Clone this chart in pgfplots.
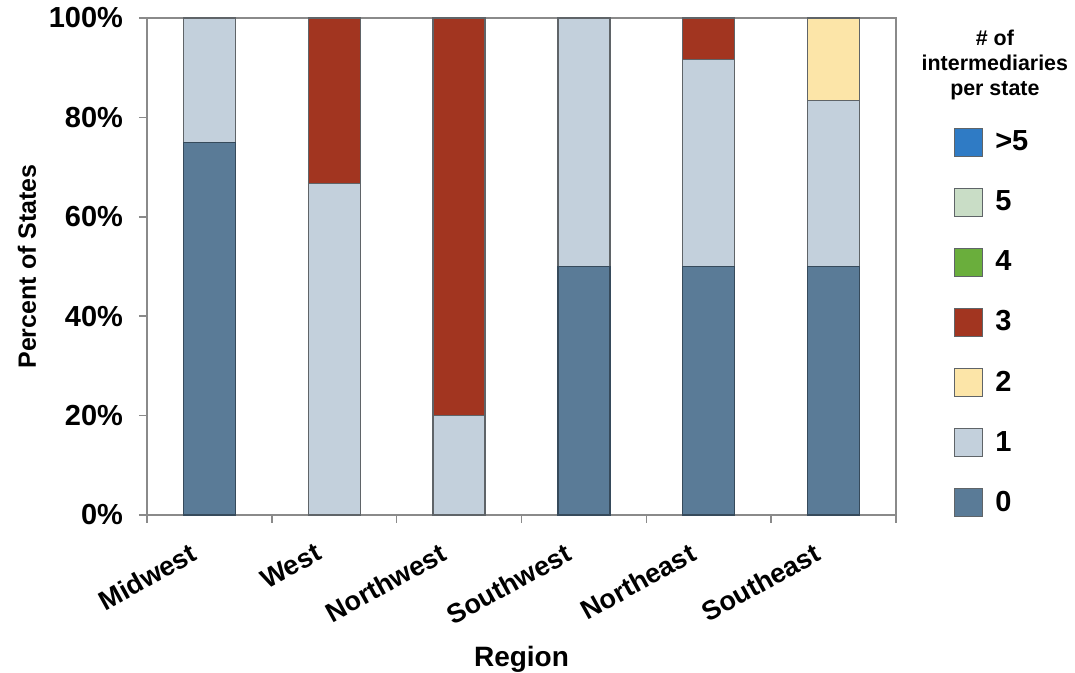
\documentclass[border=0pt]{standalone}
\usepackage{fontspec}
\setmainfont{Liberation Sans}
\usepackage{pgfplots}
\pgfplotsset{compat=1.18}
\definecolor{c0}{HTML}{5A7B97}
\definecolor{c1}{HTML}{C3D0DC}
\definecolor{c2}{HTML}{FCE5A8}
\definecolor{c3}{HTML}{A23520}
\definecolor{c4}{HTML}{6AAE3C}
\definecolor{c5}{HTML}{C9DDC6}
\definecolor{c6}{HTML}{2F7BC5}
\definecolor{edge}{HTML}{5F6468}
\definecolor{axgray}{HTML}{8A8A8A}
\begin{document}
\begin{tikzpicture}
\begin{axis}[
  scale only axis,
  width=374.5pt, height=248.5pt,
  ybar stacked,
  bar width=26pt,
  xmin=-0.5, xmax=5.5,
  ymin=0, ymax=100,
  axis line style={axgray, line width=0.8pt},
  xtick={0,1,2,3,4,5},
  xticklabels={Midwest,West,Northwest,Southwest,Northeast,Southeast},
  major x tick style={draw=none},
  minor xtick={-0.5,0.5,1.5,2.5,3.5,4.5,5.5},
  minor tick length=4pt,
  minor x tick style={axgray, line width=0.8pt},
  ytick={0,20,40,60,80,100},
  yticklabel={\pgfmathprintnumber{\tick}\%},
  major y tick style={axgray, line width=0.8pt},
  major tick length=4pt,
  tick align=outside,
  xtick pos=bottom, ytick pos=left,
  /pgf/number format/assume math mode=true,
  y tick label style={font=\fontsize{14.5}{17}\selectfont\bfseries, xshift=-4.5pt},
  x tick label style={font=\fontsize{13.5}{16}\selectfont\bfseries, rotate=29, anchor=north east, yshift=0pt, xshift=-10pt},
  ylabel={Percent of States},
  ylabel style={font=\fontsize{12.5}{15}\selectfont\bfseries, at={(rel axis cs:0,0.5)}, yshift=60pt, anchor=center},
  xlabel={Region},
  xlabel style={font=\fontsize{14}{17}\selectfont\bfseries, at={(rel axis cs:0.5,0)}, yshift=-72pt, anchor=center},
  legend style={draw=none, fill=none, at={(1.069,0.79)}, anchor=north west,
    font=\fontsize{14.5}{17}\selectfont\bfseries, row sep=14.5pt,
    /tikz/every even column/.append style={column sep=9pt},
    /tikz/every odd column/.append style={column sep=4pt}},
  legend cell align=left,
  legend image code/.code={\draw[#1] (0pt,-7pt) rectangle (14pt,7pt);},
  clip=false,
]
\addplot+[forget plot, fill=c0, draw=c0!60!black, line width=0.6pt] coordinates {(0,75) (1,0) (2,0) (3,50) (4,50) (5,50)};
\addplot+[forget plot, fill=c1, draw=edge, line width=0.6pt] coordinates {(0,25) (1,66.67) (2,20) (3,50) (4,41.67) (5,33.33)};
\addplot+[forget plot, fill=c2, draw=edge, line width=0.6pt] coordinates {(0,0) (1,0) (2,0) (3,0) (4,0) (5,16.67)};
\addplot+[forget plot, fill=c3, draw=edge, line width=0.6pt] coordinates {(0,0) (1,33.33) (2,80) (3,0) (4,8.33) (5,0)};
\addlegendimage{fill=c6, draw=edge, line width=0.6pt}
\addlegendentry{>5}
\addlegendimage{fill=c5, draw=edge, line width=0.6pt}
\addlegendentry{5}
\addlegendimage{fill=c4, draw=edge, line width=0.6pt}
\addlegendentry{4}
\addlegendimage{fill=c3, draw=edge, line width=0.6pt}
\addlegendentry{3}
\addlegendimage{fill=c2, draw=edge, line width=0.6pt}
\addlegendentry{2}
\addlegendimage{fill=c1, draw=edge, line width=0.6pt}
\addlegendentry{1}
\addlegendimage{fill=c0, draw=edge, line width=0.6pt}
\addlegendentry{0}
\node[align=center, font=\fontsize{10.7}{12.5}\selectfont\bfseries] at (rel axis cs:1.132,0.905) {\# of\\intermediaries\\per state};
\end{axis}
\pgfresetboundingbox
\path ([shift={(-73.5pt,-79pt)}]current axis.south west) rectangle ([shift={(89.5pt,9pt)}]current axis.north east);
\end{tikzpicture}
\end{document}
